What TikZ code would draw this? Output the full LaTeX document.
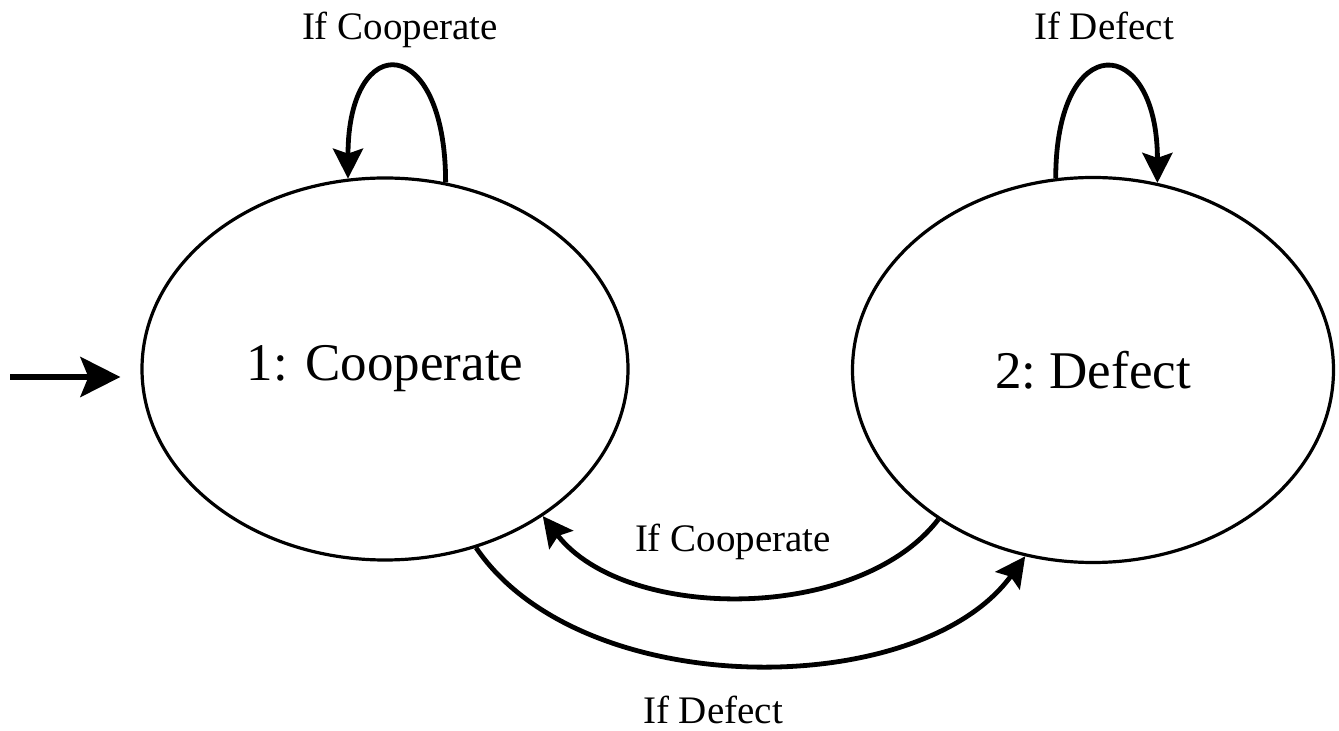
\documentclass[tikz,border=0pt]{standalone}
\usepackage{fontspec}
\setmainfont{Liberation Serif}
\usetikzlibrary{shapes.geometric,arrows.meta}
\begin{document}
\begin{tikzpicture}[x=0.5pt,y=-0.5pt,
  state/.style={ellipse, draw, line width=1.6pt, inner sep=0pt, font=\fontsize{26.5}{32}\selectfont},
  lbl/.style={font=\fontsize{19.5}{23}\selectfont, inner sep=0pt, anchor=base},
  edge/.style={line width=2.4pt, -{Stealth[length=15pt,width=15pt,inset=2.5pt]}},
  initarrow/.style={line width=2.8pt, -{Stealth[length=20pt,width=20pt,inset=4pt]}},
]
\useasboundingbox (0,0) rectangle (1339,731);
\node[state, minimum width=243pt, minimum height=191pt] (c1) at (385,369) {1: Cooperate};
\node[state, minimum width=240.5pt, minimum height=192.5pt] (c2) at (1093,370) {2:~Defect};
% self loops
\draw[edge] (c1.72) .. controls +(0,-150) and +(0,-150) .. (c1.101);
\draw[edge] (c2.101) .. controls +(0,-150) and +(0,-150) .. (c2.71);
% between states
\draw[edge] (c2.224) .. controls +(-80,104) and +(82,106) .. (c1.317);
\draw[edge] (c1.297) .. controls +(105,155) and +(-105,145) .. (c2.250);
% initial
\coordinate (init) at (10,377);
\draw[initarrow] (init) -- ([xshift=-10pt,yshift=-4pt]c1.west);
% labels
\node[lbl] (l1) at (400,40) {If Cooperate};
\node[lbl] (l2) at (1104,40) {If Defect};
\node[lbl] (l3) at (733,552) {If Cooperate};
\node[lbl] (l4) at (713,724) {If Defect};
\end{tikzpicture}
\end{document}
